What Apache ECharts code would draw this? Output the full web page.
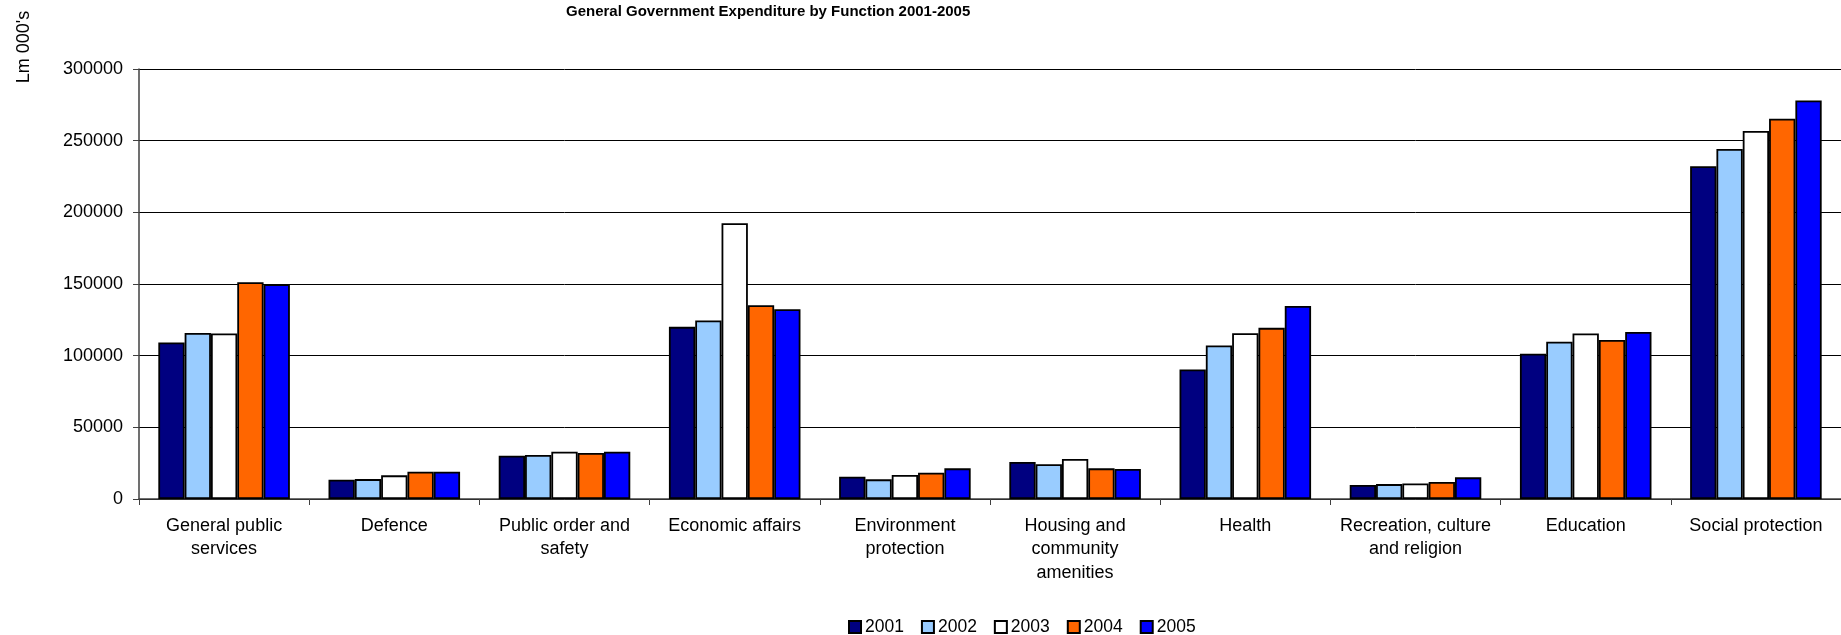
<!DOCTYPE html>
<html>
<head>
<meta charset="utf-8">
<script src="https://cdn.jsdelivr.net/npm/echarts@6/dist/echarts.min.js"></script>
<style>
  html, body { margin: 0; padding: 0; background: #fff; }
  #chart { width: 1841px; height: 635px; }
</style>
</head>
<body>
<div id="chart"></div>
<script>
const chart = echarts.init(document.getElementById('chart'))

const functions = [
  'General public\nservices',
  'Defence',
  'Public order and\nsafety',
  'Economic affairs',
  'Environment\nprotection',
  'Housing and\ncommunity\namenities',
  'Health',
  'Recreation, culture\nand religion',
  'Education',
  'Social protection'
]

const years = ['2001', '2002', '2003', '2004', '2005']
const yearColors = ['#000080', '#99CCFF', '#FFFFFF', '#FF6600', '#0000FF']

// Lm 000's
const exp2001 = [109200, 13500, 30200, 120100, 15600, 25800, 90400, 9800, 101300, 232100]
const exp2002 = [115900, 13900, 30700, 124500, 13700, 24200, 107100, 10400, 109700, 244200]
const exp2003 = [115500, 16500, 33000, 192400, 16700, 27900, 115700, 10900, 115500, 256700]
const exp2004 = [151200, 19000, 32100, 135200, 18400, 21400, 119400, 11900, 111000, 265300]
const exp2005 = [149800, 19000, 33000, 132400, 21400, 20900, 134700, 15100, 116500, 278100]

const yTicks = [0, 50000, 100000, 150000, 200000, 250000, 300000]

const values = [exp2001, exp2002, exp2003, exp2004, exp2005]
const font = 'Liberation Sans'

const series = years.map((year, i) => ({
  name: year,
  type: 'bar',
  data: values[i],
  barGap: '0%',
  barCategoryGap: '22.7%',
  itemStyle: {
    color: yearColors[i],
    borderColor: '#000',
    borderWidth: 1.8
  }
}))

const option = {
  backgroundColor: '#fff',
  animation: false,
  title: {
    text: 'General Government Expenditure by Function 2001-2005',
    left: 566,
    top: 0,
    padding: [4, 0, 0, 0],
    textStyle: {
      fontFamily: font,
      fontSize: 15,
      fontWeight: 'bold',
      color: '#000'
    }
  },
  graphic: [{
    type: 'text',
    x: 24,
    y: 47,
    rotation: Math.PI / 2,
    style: {
      text: "Lm 000's",
      font: '18px "Liberation Sans"',
      fill: '#000',
      align: 'center',
      verticalAlign: 'middle'
    }
  }],
  legend: {
    data: years,
    left: 848,
    top: 618,
    padding: 0,
    icon: 'rect',
    itemWidth: 12,
    itemHeight: 12,
    itemGap: 17,
    textStyle: {
      fontFamily: font,
      fontSize: 17.5,
      color: '#000',
      padding: [0, 0, 0, -1]
    }
  },
  grid: {
    left: 139,
    top: 69,
    width: 1715,
    height: 430,
    containLabel: false
  },
  xAxis: {
    type: 'category',
    data: functions,
    axisLine: { lineStyle: { color: '#404040', width: 1.5 } },
    axisTick: { show: true, length: 6, lineStyle: { color: '#404040' } },
    axisLabel: {
      interval: 0,
      margin: 15,
      fontFamily: font,
      fontSize: 18,
      lineHeight: 23.5,
      color: '#000'
    }
  },
  yAxis: {
    type: 'value',
    min: yTicks[0],
    max: yTicks[yTicks.length - 1],
    interval: yTicks[1] - yTicks[0],
    axisLine: { show: true, lineStyle: { color: '#404040', width: 1.5 } },
    axisTick: { show: true, length: 6, lineStyle: { color: '#404040' } },
    axisLabel: {
      margin: 16,
      fontFamily: font,
      fontSize: 18,
      color: '#000',
      formatter: v => String(v)
    },
    splitLine: { show: true, lineStyle: { color: '#000', width: 1 } }
  },
  series
}

chart.setOption(option)
</script>
</body>
</html>
